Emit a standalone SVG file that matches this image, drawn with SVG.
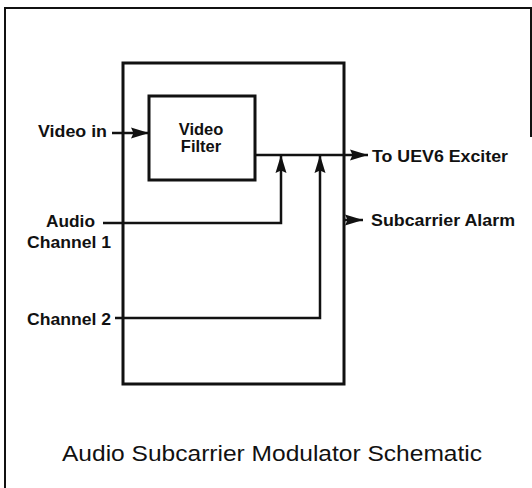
<svg xmlns="http://www.w3.org/2000/svg" width="532" height="488" viewBox="0 0 532 488">
<defs>
<style>
.lbl{font-family:"Liberation Sans",Arial,sans-serif;font-weight:bold;font-size:16.5px;fill:#111}
.title{font-family:"Liberation Sans",Arial,sans-serif;font-size:22.5px;fill:#111}
.box{fill:none;stroke:#111;stroke-width:3}
.wire{fill:none;stroke:#111;stroke-width:2.5}
</style>
<marker id="arr" markerUnits="userSpaceOnUse" markerWidth="20" markerHeight="12" refX="18" refY="6" orient="auto">
<path d="M0,0.5 L18,6 L0,11.5 L2.5,6 Z" fill="#111"/>
</marker>
</defs>
<rect width="532" height="488" fill="#fff"/>
<g id="frame">
<path d="M5,492 V8 H531 V137" fill="none" stroke="#111" stroke-width="2"/>
</g>
<g id="modulator">
<rect class="box" x="123" y="63" width="221" height="321"/>
</g>
<g id="video-filter">
<rect class="box" x="149" y="96" width="106" height="84"/>
<text class="lbl" x="201" y="135" text-anchor="middle">Video</text>
<text class="lbl" x="201" y="152" text-anchor="middle">Filter</text>
</g>
<g id="connectors">
<path class="wire" d="M112,133 H149" marker-end="url(#arr)"/>
<path class="wire" d="M255,155 H368" marker-end="url(#arr)"/>
<path class="wire" d="M344,220 H363" marker-end="url(#arr)"/>
<path class="wire" d="M103,223 H281 V155" marker-end="url(#arr)"/>
<path class="wire" d="M115,318 H320 V155" marker-end="url(#arr)"/>
</g>
<g id="labels">
<text class="lbl" x="38" y="137" textLength="69" lengthAdjust="spacingAndGlyphs">Video in</text>
<text class="lbl" x="46" y="227" textLength="49" lengthAdjust="spacingAndGlyphs">Audio</text>
<text class="lbl" x="27" y="248" textLength="84" lengthAdjust="spacingAndGlyphs">Channel 1</text>
<text class="lbl" x="27" y="325" textLength="84" lengthAdjust="spacingAndGlyphs">Channel 2</text>
<text class="lbl" x="372" y="162" textLength="136" lengthAdjust="spacingAndGlyphs">To UEV6 Exciter</text>
<text class="lbl" x="371" y="226" textLength="144" lengthAdjust="spacingAndGlyphs">Subcarrier Alarm</text>
<text class="title" x="62" y="461" textLength="420" lengthAdjust="spacingAndGlyphs">Audio Subcarrier Modulator Schematic</text>
</g>
</svg>
